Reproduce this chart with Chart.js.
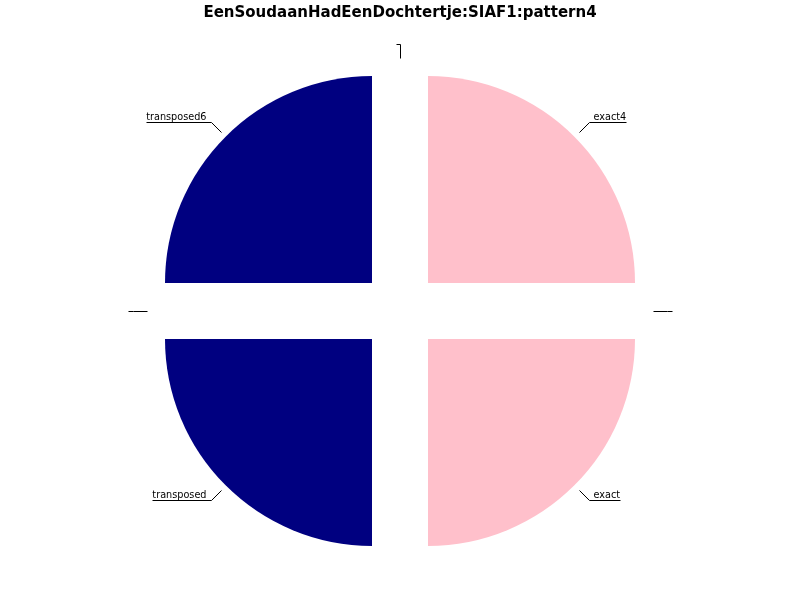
<!DOCTYPE html>
<html>
<head>
<meta charset="utf-8">
<script src="https://cdn.jsdelivr.net/npm/chart.js@4"></script>
<style>
html,body{margin:0;padding:0;background:#fff;}
#wrap{width:800px;height:600px;}
</style>
</head>
<body>
<div id="wrap"><canvas id="c" width="800" height="600"></canvas></div>
<script>
// Slices, clockwise from the top (Chart.js order)
const categories = ['', 'exact4', '', 'exact', 'transposed', '', 'transposed6'];
const values = [0, 1, 0, 1, 1, 0, 1];
const sliceColors = ['#FFC0CB', '#FFC0CB', '#FFC0CB', '#FFC0CB', '#000080', '#000080', '#000080'];
const chartTitle = 'EenSoudaanHadEenDochtertje:SIAF1:pattern4';

const RADIUS = 207;
const EXPLODE = 39.6; // px shift of each wedge along its mid angle

const leaderPlugin = {
  id: 'leaders',
  afterDatasetsDraw(chart) {
    const ctx = chart.ctx;
    const meta = chart.getDatasetMeta(0);
    ctx.save();
    ctx.strokeStyle = '#000';
    ctx.fillStyle = '#000';
    ctx.lineWidth = 1;
    ctx.font = '9.7px "DejaVu Sans"';
    ctx.textBaseline = 'alphabetic';
    meta.data.forEach((arc, i) => {
      const p = arc.getProps(['x', 'y', 'startAngle', 'endAngle', 'outerRadius'], true);
      const a = (p.startAngle + p.endAngle) / 2;
      const cx = p.x + Math.cos(a) * EXPLODE;
      const cy = p.y + Math.sin(a) * EXPLODE;
      const r = p.outerRadius;
      const x1 = cx + Math.cos(a) * r * 1.03, y1 = cy + Math.sin(a) * r * 1.03;
      const x2 = cx + Math.cos(a) * r * 1.1, y2 = cy + Math.sin(a) * r * 1.1;
      const txt = categories[i];
      const tw = ctx.measureText(txt).width;
      const right = Math.cos(a) > 0.01;
      const pad = 4.5;
      const ux = right ? x2 + tw + pad : x2 - tw - pad;
      ctx.beginPath();
      ctx.moveTo(Math.round(x1) + 0.5, Math.round(y1) + 0.5);
      ctx.lineTo(Math.round(x2) + 0.5, Math.round(y2) + 0.5);
      ctx.lineTo(Math.round(ux) + 0.5, Math.round(y2) + 0.5);
      ctx.stroke();
      ctx.textAlign = right ? 'left' : 'right';
      ctx.fillText(txt, right ? x2 + pad : x2 - pad, Math.round(y2) - 2);
    });
    ctx.restore();
  }
};

new Chart(document.getElementById('c'), {
  type: 'pie',
  data: {
    labels: categories,
    datasets: [{
      data: values,
      backgroundColor: sliceColors,
      borderWidth: 0,
      offset: EXPLODE * 4,
      hoverOffset: 0,
      clip: false
    }]
  },
  options: {
    responsive: false,
    animation: false,
    events: [],
    radius: RADIUS,
    layout: { padding: { top: 0, bottom: 10, left: 0, right: 0 } },
    plugins: {
      legend: { display: false },
      tooltip: { enabled: false },
      title: {
        display: true,
        text: chartTitle,
        color: '#000',
        font: { family: 'DejaVu Sans', size: 15, weight: 'bold', lineHeight: 1.2 },
        padding: { top: 4, bottom: 10 }
      }
    }
  },
  plugins: [leaderPlugin]
});
</script>
</body>
</html>
